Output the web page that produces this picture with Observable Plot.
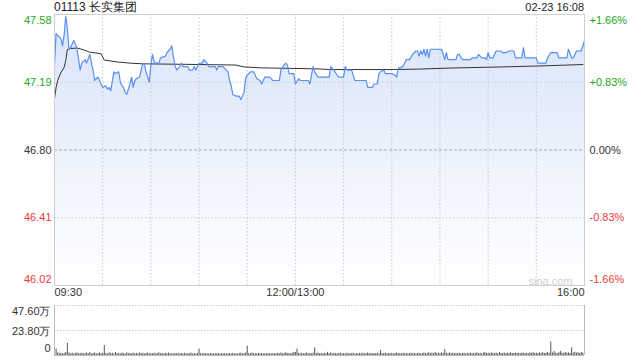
<!DOCTYPE html>
<html><head><meta charset="utf-8">
<script src="https://cdn.jsdelivr.net/npm/d3@7"></script>
<script src="https://cdn.jsdelivr.net/npm/@observablehq/plot@0.6"></script>
<style>
html,body{margin:0;padding:0;background:#fff;}
#root{position:relative;width:640px;height:360px;overflow:hidden;font-family:"Liberation Sans",Arial,sans-serif;}
#root svg{position:absolute;left:0;overflow:visible;}
.t{position:absolute;white-space:nowrap;color:#222;line-height:14px;}
</style></head><body><div id="root"></div>
<script>
const stockTitle = "01113 长实集团";
const stamp = "02-23 16:08";
const prevClose = 46.80;
const priceTicks = [46.02, 46.41, 46.80, 47.19, 47.58];
const pctLabels = ["-1.66%", "-0.83%", "0.00%", "+0.83%", "+1.66%"];
const timeTicks = ["09:30", "12:00/13:00", "16:00"];
const watermark = "sina.com";

const priceTimes = ["09:30","09:31","09:33","09:34","09:35","09:36","09:37","09:38","09:39","09:40","09:42","09:43","09:44","09:45","09:46","09:47","09:49","09:50","09:52","09:53","09:54","09:55","09:57","09:58","09:59","10:00","10:02","10:03","10:04","10:05","10:07","10:08","10:10","10:11","10:12","10:13","10:14","10:15","10:17","10:18","10:19","10:20","10:21","10:23","10:25","10:26","10:27","10:28","10:29","10:30","10:31","10:32","10:33","10:35","10:36","10:39","10:40","10:42","10:43","10:44","10:45","10:46","10:48","10:49","10:50","10:53","10:54","10:56","10:57","10:58","11:00","11:02","11:03","11:05","11:06","11:10","11:11","11:12","11:15","11:17","11:18","11:19","11:20","11:21","11:23","11:25","11:26","11:28","11:29","11:30","11:32","11:34","11:36","11:38","11:39","11:41","11:44","11:46","11:50","11:51","11:53","11:54","11:55","11:56","11:59","13:00","13:02","13:03","13:08","13:09","13:11","13:12","13:14","13:21","13:22","13:24","13:26","13:27","13:30","13:31","13:32","13:35","13:37","13:40","13:44","13:45","13:48","13:49","13:51","13:52","13:53","13:55","13:56","14:00","14:02","14:03","14:04","14:07","14:09","14:11","14:13","14:15","14:16","14:17","14:18","14:19","14:20","14:21","14:22","14:23","14:24","14:31","14:32","14:33","14:34","14:35","14:40","14:41","14:42","14:44","14:49","14:50","14:53","14:54","14:56","14:58","14:59","15:00","15:01","15:03","15:05","15:08","15:09","15:11","15:13","15:16","15:17","15:21","15:22","15:23","15:30","15:31","15:36","15:37","15:39","15:43","15:44","15:49","15:50","15:52","15:53","15:55","15:58","16:00"];
const prices = [47.29,47.47,47.45,47.44,47.40,47.46,47.57,47.50,47.38,47.39,47.43,47.41,47.38,47.32,47.26,47.30,47.32,47.30,47.35,47.30,47.26,47.20,47.22,47.20,47.18,47.16,47.17,47.15,47.16,47.14,47.25,47.24,47.25,47.19,47.17,47.16,47.13,47.12,47.18,47.22,47.16,47.20,47.21,47.22,47.30,47.29,47.25,47.22,47.19,47.29,47.35,47.31,47.30,47.30,47.33,47.34,47.36,47.38,47.40,47.34,47.29,47.26,47.28,47.30,47.28,47.28,47.26,47.26,47.28,47.26,47.30,47.30,47.32,47.30,47.28,47.28,47.26,47.28,47.28,47.26,47.25,47.20,47.17,47.12,47.11,47.11,47.09,47.13,47.21,47.23,47.25,47.25,47.21,47.20,47.18,47.22,47.22,47.20,47.20,47.26,47.29,47.30,47.29,47.24,47.24,47.18,47.21,47.20,47.20,47.18,47.28,47.25,47.22,47.22,47.28,47.26,47.23,47.22,47.22,47.28,47.26,47.26,47.20,47.20,47.20,47.16,47.16,47.18,47.18,47.24,47.25,47.26,47.24,47.24,47.23,47.22,47.27,47.28,47.32,47.32,47.35,47.37,47.37,47.34,47.37,47.35,47.38,47.34,47.38,47.33,47.38,47.38,47.35,47.32,47.36,47.32,47.32,47.35,47.35,47.32,47.32,47.33,47.33,47.35,47.33,47.33,47.32,47.36,47.33,47.33,47.37,47.37,47.36,47.36,47.37,47.37,47.33,47.33,47.39,47.33,47.33,47.30,47.30,47.33,47.36,47.36,47.33,47.33,47.38,47.33,47.33,47.37,47.37,47.43];

const avgTimes = ["09:30","09:31","09:32","09:34","09:36","09:37","09:38","09:40","09:44","09:48","09:52","09:59","10:01","10:09","10:17","10:25","11:01","11:23","11:28","11:38","13:13","13:22","14:01","14:18","14:37","15:08","15:33","15:59"];
const avgPrices = [47.096,47.160,47.200,47.246,47.275,47.315,47.378,47.384,47.387,47.377,47.363,47.354,47.318,47.307,47.300,47.296,47.292,47.289,47.278,47.273,47.267,47.263,47.263,47.266,47.272,47.278,47.284,47.292];

// volume per minute from 09:30 to 16:00 (unit: 万股)
const volume = [
3.0,6.2,2.5,1.8,2.2,1.5,2.0,2.8,11.5,2.4,
1.6,2.2,1.4,2.0,2.6,1.5,1.8,2.2,1.4,2.0,
2.4,1.6,2.8,1.5,2.0,2.3,1.4,1.9,2.5,1.6,
2.2,9.5,2.0,1.5,2.6,1.8,2.2,1.4,2.9,1.6,
2.0,1.5,2.4,1.8,1.3,2.6,1.7,2.0,1.5,2.3,
1.6,2.0,1.4,2.5,1.7,2.1,1.3,1.9,2.4,1.5,
2.0,1.6,2.2,1.4,1.8,2.5,1.5,1.9,1.3,2.1,
1.7,2.3,1.5,1.8,1.4,2.0,1.6,2.2,1.3,1.8,
1.5,2.1,1.4,1.9,1.6,2.4,1.3,1.8,1.5,2.0,
6.2,1.8,1.4,2.0,1.5,1.7,1.3,1.9,1.6,1.4,
1.8,1.5,2.0,1.3,1.7,1.5,1.9,1.4,1.6,1.8,
1.4,2.0,1.5,1.7,1.3,1.9,2.2,1.5,1.8,2.4,
8.9,2.0,1.6,2.3,1.5,1.8,1.4,2.1,1.6,1.9,
1.5,1.8,1.3,2.0,1.6,1.4,1.9,1.5,1.7,2.2,
1.6,2.4,1.5,1.9,2.6,1.7,2.0,1.5,2.2,2.8,
3.0,6.2,2.0,1.6,2.2,1.5,1.9,2.4,1.6,2.0,
1.5,2.2,7.2,1.8,2.4,1.6,2.0,1.5,2.1,1.7,
3.0,1.8,2.6,1.5,2.2,1.7,2.0,1.6,2.3,1.5,
1.8,1.5,2.1,1.4,1.9,1.6,2.2,1.4,1.8,1.5,
2.0,1.6,2.3,1.5,1.8,2.5,1.6,2.0,1.5,1.9,
1.6,2.2,1.5,4.9,2.0,1.7,2.3,1.5,1.9,1.6,
2.1,1.5,1.8,2.4,1.6,1.9,1.5,2.2,1.7,2.0,
1.5,1.8,2.3,1.6,2.0,1.5,1.9,2.2,1.6,1.8,
2.4,1.7,2.0,2.6,1.8,2.2,1.6,2.9,1.9,2.3,
1.8,2.5,2.0,5.6,2.2,1.7,2.4,1.9,2.1,1.6,
2.0,1.7,2.3,1.6,1.9,2.2,1.5,2.0,1.8,2.4,
1.6,2.1,1.8,2.6,1.7,2.0,1.5,2.3,2.8,1.9,
2.2,1.7,2.5,2.0,1.8,2.3,1.6,2.9,2.0,1.8,
2.4,1.9,2.2,1.7,2.6,2.0,1.8,2.3,1.9,2.1,
1.7,2.4,2.0,1.8,2.2,1.6,2.5,2.0,2.7,1.9,
2.2,1.8,2.4,2.0,2.6,1.9,2.3,2.8,2.1,12.8,
2.4,3.9,2.2,2.0,2.6,3.9,2.3,2.0,2.8,2.2,
2.5,2.0,7.2,2.4,3.0,2.2,2.6,2.0,2.8,2.4,
3.0];
const volTicks = [0, 23.8, 47.6];
const volLabels = ["0", "23.80万", "47.60万"];

const GREEN = "#22a822", RED = "#f03a3a", DARK = "#333", GRID = "#c9c9c9";
const FONT = "'Liberation Sans', Arial, sans-serif";

function idx(t) {
  const [h, m] = t.split(":").map(Number);
  const mins = h * 60 + m;
  return mins <= 720 ? mins - 570 : 150 + (mins - 780);
}
const priceData = priceTimes.map((t, i) => ({x: idx(t), p: prices[i]}));
const avgData = avgTimes.map((t, i) => ({x: idx(t), p: avgPrices[i]}));
const volData = volume.map((v, i) => ({x: i, v}));
const tickXs = timeTicks.map(t => idx(t.split("/")[0]));
const gridX = d3.range(30, 330, 30);
const yMin = priceTicks[0], yMax = priceTicks[priceTicks.length - 1];
const colorOf = v => v > prevClose + 1e-9 ? GREEN : v < prevClose - 1e-9 ? RED : DARK;
const tickRows = priceTicks.map((v, i) => ({v, pct: pctLabels[i], c: colorOf(v)}));

function labelMarks(rows) {
  const marks = [];
  for (const r of rows) {
    const la = r.v === yMax ? "top" : r.v === yMin ? "bottom" : "middle";
    const dy = r.v === yMax ? 2 : r.v === yMin ? -3 : 0;
    const common = {y: d => d.v, fill: r.c, fontSize: 11, lineAnchor: la, dy};
    marks.push(Plot.text([r], {...common, frameAnchor: "left", textAnchor: "end", dx: -3, text: d => d.v.toFixed(2)}));
    marks.push(Plot.text([r], {...common, frameAnchor: "right", textAnchor: "start", dx: 5, text: d => d.pct}));
  }
  return marks;
}

const main = Plot.plot({
  width: 640, height: 300,
  marginLeft: 54, marginRight: 56, marginTop: 14, marginBottom: 15,
  x: {type: "linear", domain: [0, 330], axis: null},
  y: {domain: [yMin, yMax], axis: null},
  style: {fontFamily: FONT, background: "transparent", color: DARK},
  marks: [
    Plot.areaY(priceData, {x: "x", y1: () => yMin, y2: "p", fill: "url(#pgrad)"}),
    Plot.ruleX(gridX, {x: d => d, stroke: GRID, strokeDasharray: "1.5,2"}),
    Plot.ruleY([priceTicks[1], priceTicks[3]], {y: d => d, stroke: GRID, strokeDasharray: "1.5,2"}),
    Plot.ruleY([prevClose], {y: d => d, stroke: "#aaa", strokeDasharray: "3,2"}),
    Plot.line(avgData, {x: "x", y: "p", stroke: "#333", strokeWidth: 1}),
    Plot.line(priceData, {x: "x", y: "p", stroke: "#5a8ff2", strokeWidth: 1.2}),
    Plot.frame({stroke: "#cfcfcf"}),
    ...labelMarks(tickRows),
    Plot.text([0], {x: d => tickXs[0], frameAnchor: "bottom", lineAnchor: "top", dy: 3, textAnchor: "start", fontSize: 11, fill: DARK, text: () => timeTicks[0]}),
    Plot.text([1], {x: d => tickXs[1], frameAnchor: "bottom", lineAnchor: "top", dy: 3, textAnchor: "middle", fontSize: 11, fill: DARK, text: () => timeTicks[1]}),
    Plot.text([2], {x: d => 330, frameAnchor: "bottom", lineAnchor: "top", dy: 3, textAnchor: "end", fontSize: 11, fill: DARK, text: () => timeTicks[2]}),
    Plot.text([watermark], {frameAnchor: "bottom-right", textAnchor: "end", lineAnchor: "bottom", dx: -12, dy: -1, fontSize: 11, fill: "#cfcfcf", text: d => d})
  ]
});
main.style.top = "0px";
const defs = d3.select(main).insert("defs", ":first-child");
const g = defs.append("linearGradient").attr("id", "pgrad")
  .attr("gradientUnits", "userSpaceOnUse").attr("x1", 0).attr("x2", 0).attr("y1", 14).attr("y2", 285);
g.append("stop").attr("offset", "0%").attr("stop-color", "#d8e4fa");
g.append("stop").attr("offset", "100%").attr("stop-color", "#ffffff");

const vol = Plot.plot({
  width: 640, height: 64,
  marginLeft: 54, marginRight: 56, marginTop: 9, marginBottom: 5,
  x: {type: "linear", domain: [0, 330], axis: null},
  y: {domain: [0, 47.6], axis: null},
  style: {fontFamily: FONT, background: "transparent", color: DARK},
  marks: [
    Plot.ruleY([23.8, 47.6], {y: d => d, stroke: GRID, strokeDasharray: "1.5,1.5"}),
    Plot.ruleX(volData, {x: "x", y1: () => 0, y2: "v", stroke: "#555", strokeWidth: 1}),
    Plot.ruleX([0, 330], {x: d => d, stroke: "#bbb"}),
    Plot.ruleY([0], {y: d => d, stroke: "#bbb"}),
    Plot.text([0], {y: () => 0, frameAnchor: "left", textAnchor: "end", dx: -4, dy: -4, lineAnchor: "bottom", fontSize: 11, fill: DARK, text: () => volLabels[0]}),
    Plot.text([1], {y: () => volTicks[1], frameAnchor: "left", textAnchor: "end", dx: -4, dy: 1, lineAnchor: "middle", fontSize: 11, fill: DARK, text: () => volLabels[1]}),
    Plot.text([2], {y: () => volTicks[2], frameAnchor: "left", textAnchor: "end", dx: -4, dy: 2, lineAnchor: "top", fontSize: 11, fill: DARK, text: () => volLabels[2]})
  ]
});
vol.style.top = "296px";

const root = document.getElementById("root");
root.appendChild(main);
root.appendChild(vol);
const t1 = document.createElement("div");
t1.className = "t"; t1.textContent = stockTitle;
Object.assign(t1.style, {left: "54px", top: "0px", fontSize: "12px"});
const t2 = document.createElement("div");
t2.className = "t"; t2.textContent = stamp;
Object.assign(t2.style, {right: "56px", top: "0px", fontSize: "11px"});
root.appendChild(t1); root.appendChild(t2);
</script></body></html>
